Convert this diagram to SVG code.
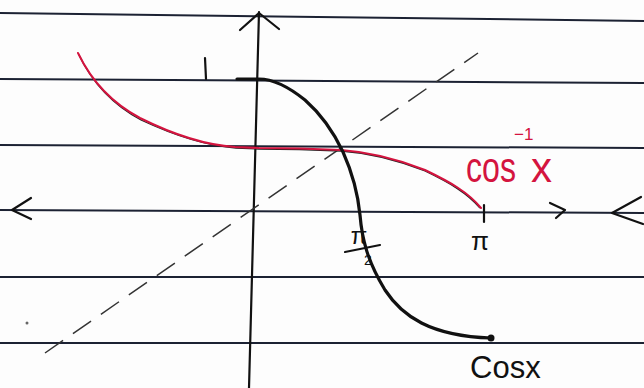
<svg xmlns="http://www.w3.org/2000/svg" width="644" height="388" viewBox="0 0 644 388">
<style>
.paper{stroke:#1c2233;stroke-width:2;fill:none}
.ink{stroke:#111;stroke-width:2.2;fill:none;stroke-linecap:round;stroke-linejoin:round}
.curve{stroke:#111;stroke-width:3.2;fill:none;stroke-linecap:round}
.red{stroke:#d4143f;stroke-width:2;fill:none;stroke-linecap:round}
.pencil{stroke:#222;stroke-width:1.3;fill:none}
.dash{stroke:#333;stroke-width:1.5;fill:none;stroke-dasharray:22 12}
.lbl{font-family:"Liberation Sans",Arial,sans-serif;fill:#111}
.rlbl{font-family:"Liberation Sans",Arial,sans-serif;fill:#d4143f}
</style>
<rect width="644" height="388" fill="#fdfdfd"/>
<g id="paper-lines">
<line class="paper" x1="0" y1="13" x2="644" y2="21"/>
<line class="paper" x1="0" y1="79" x2="644" y2="83"/>
<line class="paper" x1="0" y1="145" x2="644" y2="148"/>
<line class="paper" x1="0" y1="277" x2="644" y2="277"/>
<line class="paper" x1="0" y1="343" x2="644" y2="343"/>
</g>
<g id="axes">
<line class="paper" x1="0" y1="210" x2="644" y2="213"/>
<line class="ink" x1="259" y1="12" x2="249" y2="388"/>
<polyline class="ink" points="240,30 259,13 279,29"/>
<polyline class="ink" points="31,198 12,210 31,219"/>
<polyline class="ink" points="550,203 565,210 556,218"/>
<polyline class="ink" points="641,197 612,213 643,224"/>
<line class="ink" x1="484" y1="205" x2="484" y2="222"/>
</g>
<g id="connectors">
<line class="dash" x1="45" y1="353" x2="478" y2="53"/>
<path class="pencil" d="M 79 55 C 91 80, 111 104, 141 120 C 171 134, 206 146, 236 148 L 259 149 C 290 149, 320 150, 341 151 C 370 153, 400 161, 425 171 C 450 183, 467 193, 480 208"/>
<path class="red" d="M 78 53 C 90 78, 110 102, 140 118 C 170 133, 205 145, 235 147 L 259 148 C 290 148, 320 149, 341 150 C 370 152, 400 160, 425 170 C 450 182, 468 192, 481 208"/>
<path class="curve" d="M 237 79 L 259 79 C 275 79, 290 88, 305 100 C 322 115, 335 135, 343 152 C 352 172, 358 195, 360 215 C 362 240, 368 262, 385 290 C 402 316, 430 336, 491 338"/>
<circle cx="491" cy="338" r="3.5" fill="#111"/>
<circle cx="27" cy="323" r="1.5" fill="#666"/>
</g>
<g id="labels">
<line class="ink" x1="205" y1="58" x2="206" y2="79"/>
<text class="lbl" x="480" y="250" font-size="26" text-anchor="middle">π</text>
<text class="lbl" x="359" y="244" font-size="24" text-anchor="middle">π</text>
<line class="ink" x1="345" y1="252" x2="380" y2="245"/>
<text class="lbl" x="368" y="265" font-size="14" text-anchor="middle">2</text>
<text class="rlbl" font-size="42"><tspan x="466" y="182" textLength="50" lengthAdjust="spacingAndGlyphs">cos</tspan><tspan x="514" y="140" font-size="17">−1</tspan><tspan x="531" y="182">x</tspan></text>
<text class="lbl" x="470" y="378" font-size="31">Cosx</text>
</g>
</svg>
